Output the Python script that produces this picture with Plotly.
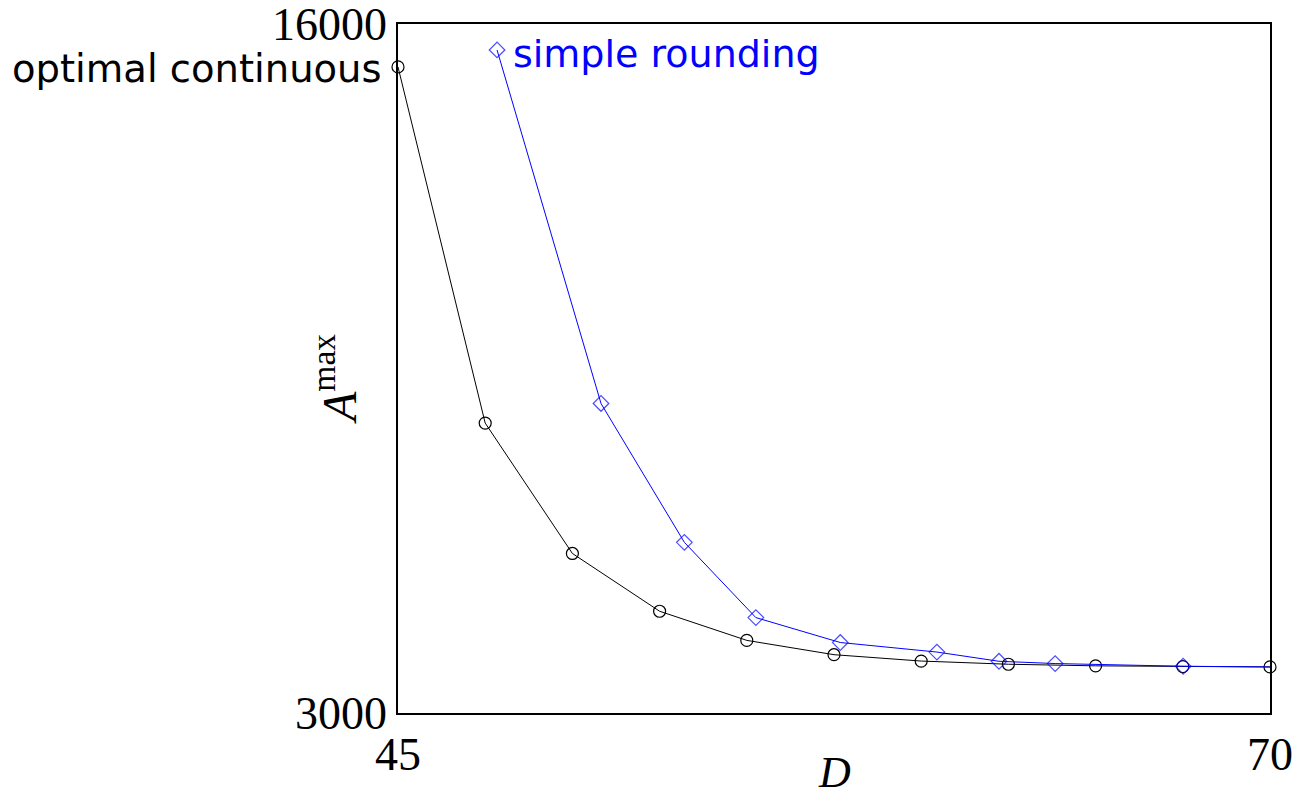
import plotly.graph_objects as go

# Data
d_opt = [45, 47.5, 50, 52.5, 55, 57.5, 60, 62.5, 65, 67.5, 70]
a_opt = [15190, 8470, 6010, 4920, 4370, 4100, 3980, 3920, 3890, 3876, 3869]

d_round = [47.84, 50.82, 53.21, 55.26, 57.68, 60.45, 62.23, 63.84, 67.51, 70]
a_round = [15510, 8840, 6220, 4800, 4330, 4150, 3976, 3933, 3882, 3869]

x_ticks = [45, 70]
y_ticks = [3000, 16000]

label_opt = "optimal continuous"
label_round = "simple rounding"
x_title = "<i>D</i>"
y_title = "<i>A</i><sup>max</sup>"

fig = go.Figure()
fig.add_trace(go.Scatter(
    x=d_opt, y=a_opt, mode="lines+markers",
    line=dict(color="black", width=1),
    marker=dict(symbol="circle-open", size=12, color="black", line=dict(width=1.2)),
    showlegend=False, cliponaxis=False,
))
fig.add_trace(go.Scatter(
    x=d_round, y=a_round, mode="lines+markers",
    line=dict(color="#0000ff", width=1),
    marker=dict(symbol="diamond-open", size=[12] * (len(d_round) - 1) + [0],
                color="#0000ff", line=dict(width=1.2)),
    showlegend=False, cliponaxis=False,
))

fig.add_annotation(x=d_opt[0], y=a_opt[0], xref="x", yref="y", text=label_opt,
                   showarrow=False, xanchor="right", yanchor="middle", xshift=-14, yshift=-2,
                   font=dict(family="DejaVu Sans", size=38.5, color="black"))
fig.add_annotation(x=d_round[0], y=a_round[0], xref="x", yref="y", text=label_round,
                   showarrow=False, xanchor="left", yanchor="middle", xshift=14, yshift=-4,
                   font=dict(family="DejaVu Sans", size=38, color="#0000ff"))

serif = "Liberation Serif"
# axis titles as annotations for exact placement
fig.add_annotation(x=0.5, y=-0.087, xref="paper", yref="paper", text=x_title,
                   showarrow=False, xanchor="center", yanchor="middle",
                   font=dict(family=serif, size=44, color="black"))
fig.add_annotation(x=-0.072, y=0.485, xref="paper", yref="paper", text=y_title,
                   showarrow=False, xanchor="center", yanchor="middle", textangle=-90,
                   font=dict(family=serif, size=48, color="black"))

fig.update_layout(
    width=1297, height=798,
    margin=dict(l=398, r=27, t=24, b=85),
    paper_bgcolor="white", plot_bgcolor="white",
    xaxis=dict(
        range=[45, 70], tickvals=x_ticks, ticktext=[str(v) for v in x_ticks],
        showgrid=False, zeroline=False, showline=True, mirror=True, automargin=False,
        linecolor="black", linewidth=1.5, ticks="", ticklabeloverflow="allow",
        tickfont=dict(family=serif, size=46, color="black"),
    ),
    yaxis=dict(
        range=[3000, 16000], tickvals=y_ticks, ticktext=[str(v) for v in y_ticks],
        showgrid=False, zeroline=False, showline=True, mirror=True, automargin=False,
        linecolor="black", linewidth=1.5, ticks="", ticklabeloverflow="allow",
        tickfont=dict(family=serif, size=46, color="black"),
    ),
)

fig.write_html("out.html")
